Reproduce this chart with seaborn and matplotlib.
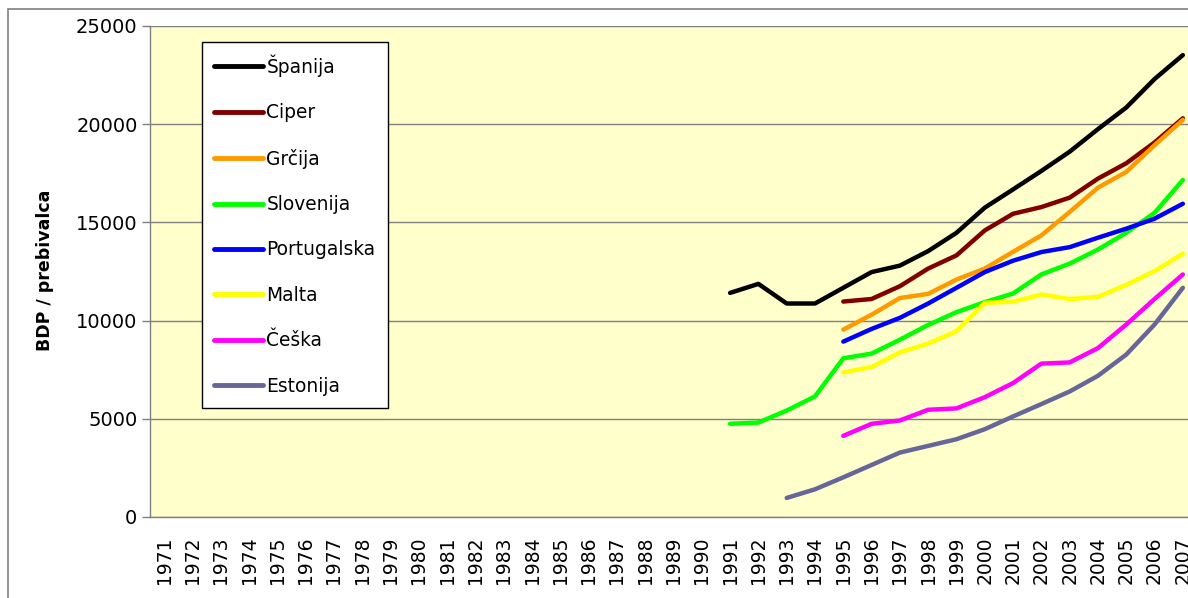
import numpy as np
import pandas as pd
import matplotlib
matplotlib.use("Agg")
import matplotlib.pyplot as plt
import seaborn as sns
from matplotlib.patches import Rectangle

years = list(range(1971, 2008))

spanija = [11410, 11870, 10870, 10870, 11670, 12470, 12800, 13540, 14470, 15750,
           16680, 17620, 18600, 19750, 20850, 22300, 23520]          # 1991-2007
ciper = [10970, 11100, 11750, 12650, 13320, 14590, 15440, 15780, 16260, 17230,
         18010, 19070, 20300]                                         # 1995-2007
grcija = [9540, 10300, 11150, 11360, 12090, 12650, 13500, 14340, 15530, 16770,
          17570, 18930, 20220]                                        # 1995-2007
slovenija = [4745, 4810, 5420, 6140, 8080, 8320, 9030, 9780, 10430, 10940,
             11380, 12350, 12900, 13620, 14470, 15490, 17160]         # 1991-2007
portugalska = [8930, 9575, 10140, 10870, 11670, 12470, 13050, 13490, 13740, 14220,
               14680, 15190, 15950]                                   # 1995-2007
malta = [7360, 7640, 8380, 8830, 9460, 10900, 10970, 11330, 11100, 11210,
         11820, 12520, 13400]                                         # 1995-2007
ceska = [4130, 4745, 4915, 5460, 5530, 6100, 6820, 7810, 7870, 8600,
         9800, 11100, 12350]                                          # 1995-2007
estonija = [970, 1410, 2020, 2650, 3280, 3620, 3960, 4470, 5120, 5750,
            6390, 7190, 8270, 9800, 11670]                            # 1993-2007

series = [
    ("Španija", 1991, spanija, "#000000"),
    ("Ciper", 1995, ciper, "#800000"),
    ("Grčija", 1995, grcija, "#FF9900"),
    ("Slovenija", 1991, slovenija, "#00FF00"),
    ("Portugalska", 1995, portugalska, "#0000FF"),
    ("Malta", 1995, malta, "#FFFF00"),
    ("Češka", 1995, ceska, "#FF00FF"),
    ("Estonija", 1993, estonija, "#666699"),
]

rows = []
for name, start, vals, _ in series:
    for i, v in enumerate(vals):
        rows.append({"Leto": years.index(start + i), "BDP": v, "Država": name})
df = pd.DataFrame(rows)
palette = {name: col for name, _, _, col in series}
order = [s[0] for s in series]

sns.set_style("white")
plt.rcParams["font.family"] = ["DejaVu Sans"]
plt.rcParams["text.color"] = "black"
plt.rcParams["xtick.labelcolor"] = "black"
plt.rcParams["ytick.labelcolor"] = "black"

W, H = 1188, 598
fig = plt.figure(figsize=(W / 100, H / 100), dpi=100)
fig.patch.set_facecolor("white")

# outer chart border
fig.patches.append(Rectangle((8 / W, -0.1), 1.2, 1 - 9 / H + 0.1, transform=fig.transFigure,
                             fill=False, edgecolor="#808080", linewidth=1.2))

left, right, top, bottom = 150, 1197, 26, 517
ax = fig.add_axes([left / W, 1 - bottom / H, (right - left) / W, (bottom - top) / H])
ax.set_facecolor("#FFFFCC")

sns.lineplot(data=df, x="Leto", y="BDP", hue="Država", hue_order=order, palette=palette,
             linewidth=3.2, ax=ax, legend=True)

ax.set_xlim(-0.5, len(years) - 0.5)
ax.set_ylim(0, 25000)
ax.set_yticks(np.arange(0, 25001, 5000))
ax.set_yticklabels([str(v) for v in range(0, 25001, 5000)], fontsize=14, color="black")
ax.set_xticks(range(len(years)))
ax.set_xticklabels([str(y) for y in years], rotation=90, fontsize=13.5, color="black")
ax.set_xticks(np.arange(-0.5, len(years), 1), minor=True)
ax.tick_params(axis="x", which="major", length=0, pad=14)
ax.tick_params(axis="x", which="minor", length=6, color="#808080", width=1)
ax.tick_params(axis="y", which="major", length=6, color="#808080", width=1, pad=3, left=True)
ax.yaxis.grid(True, color="#808080", linewidth=1)
ax.xaxis.grid(False)
ax.set_axisbelow(True)
for s in ["top", "right"]:
    ax.spines[s].set_visible(False)
for s in ["left", "bottom"]:
    ax.spines[s].set_color("#808080")
    ax.spines[s].set_linewidth(1)
ax.set_xlabel("")
ax.set_ylabel("")

fig.text(45 / W, 1 - 270 / H, "BDP / prebivalca", rotation=90, fontsize=12.5,
         fontweight="bold", ha="center", va="center", color="black")

handles, labels = ax.get_legend_handles_labels()
leg = ax.legend(handles, labels, loc="upper left",
                bbox_to_anchor=(202 / W, 1 - 42 / H), bbox_transform=fig.transFigure,
                frameon=True, fancybox=False, fontsize=13.4, handlelength=2.6,
                handletextpad=0.2, labelspacing=1.42, borderpad=0.66, borderaxespad=0,
                labelcolor="black")
leg.get_frame().set_edgecolor("black")
leg.get_frame().set_linewidth(1)
leg.get_frame().set_facecolor("white")
leg.get_frame().set_alpha(1)
for line in leg.get_lines():
    line.set_linewidth(3.5)

fig.savefig("out.png", dpi=100)
